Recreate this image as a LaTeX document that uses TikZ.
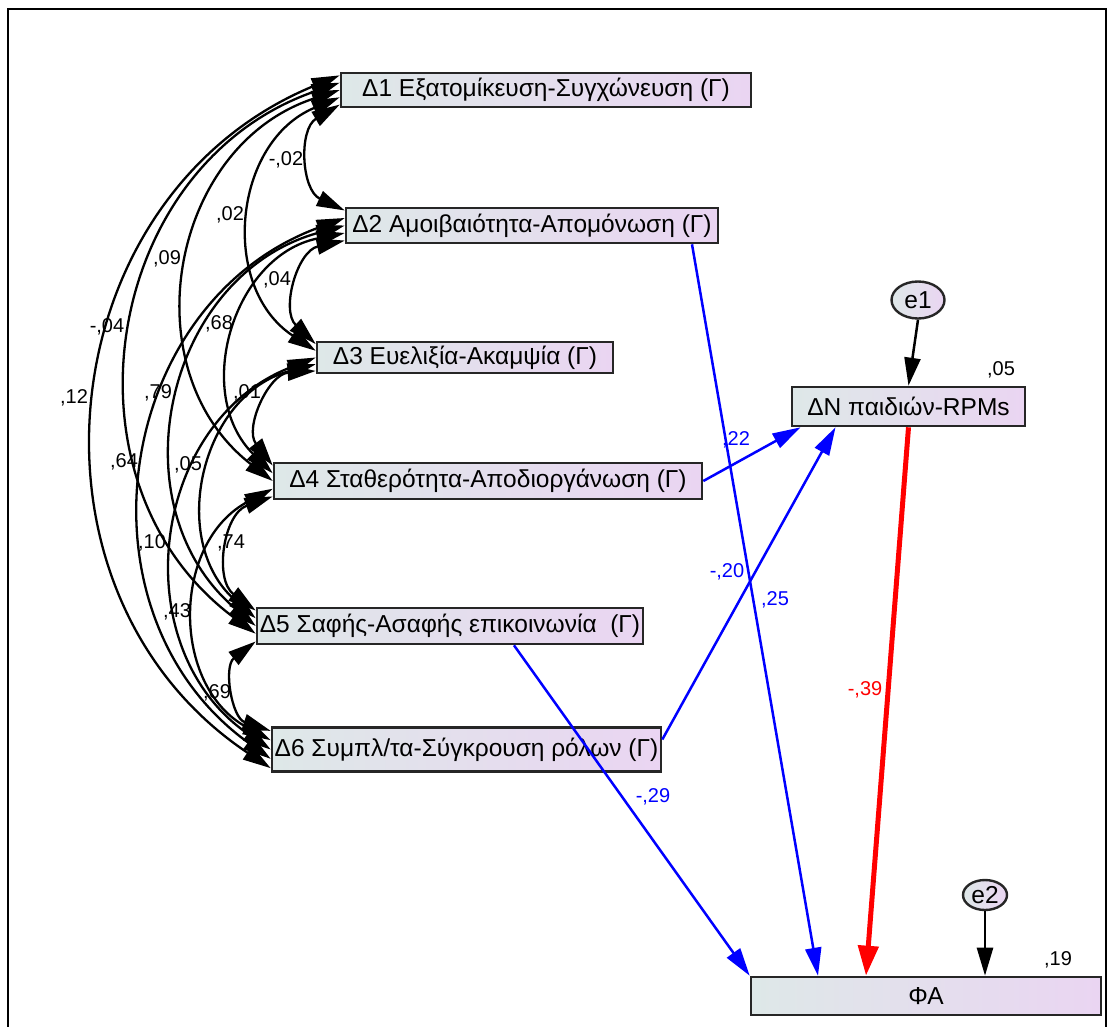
\documentclass[tikz,border=0pt]{standalone}
\usepackage{fontspec}
\setmainfont{Liberation Sans}
\usetikzlibrary{arrows.meta,calc,shapes.geometric}

\definecolor{boxL}{RGB}{222,232,232}
\definecolor{boxR}{RGB}{234,213,242}
\definecolor{pathblue}{RGB}{0,0,255}
\definecolor{pathred}{RGB}{255,0,0}

\begin{document}
\begin{tikzpicture}[x=1pt,y=-1pt,
  var/.style={rectangle, draw=black!85, line width=2.6pt, left color=boxL, right color=boxR,
    inner sep=0pt, font=\fontsize{24.5}{27}\selectfont},
  err/.style={ellipse, draw=black!85, line width=2.4pt, left color=boxL, right color=boxR,
    inner sep=0pt, font=\fontsize{24.5}{27}\selectfont},
  cov/.style={line width=2.3pt, {Triangle[length=28pt,width=16pt]}-{Triangle[length=28pt,width=16pt]},
    bend right=62, looseness=1.16},
  reg/.style={line width=2.5pt, draw=pathblue, -{Triangle[length=28pt,width=16pt]}},
  bigreg/.style={line width=5pt, draw=pathred, -{Triangle[length=30pt,width=20pt]}},
  resid/.style={line width=2.5pt, -{Triangle[length=28pt,width=16pt]}},
  lbl/.style={font=\fontsize{20}{22}\selectfont, inner sep=0pt},
]
\useasboundingbox (0,0) rectangle (1113,1026);

% outer frame
\draw[line width=2.8pt] (8,1040) -- (8,9) -- (1106,9) -- (1106,1040);

% observed variables
\node[var, minimum width=410, minimum height=34] (d1) at (546,90)   {Δ1 Εξατομίκευση-Συγχώνευση (Γ)};
\node[var, minimum width=372, minimum height=35] (d2) at (532,225.5){Δ2 Αμοιβαιότητα-Απομόνωση (Γ)};
\node[var, minimum width=296, minimum height=31] (d3) at (465,357.5){Δ3 Ευελιξία-Ακαμψία (Γ)};
\node[var, minimum width=428, minimum height=36] (d4) at (488,481)  {Δ4 Σταθερότητα-Αποδιοργάνωση (Γ)};
\node[var, minimum width=386, minimum height=36] (d5) at (450,626)  {Δ5 Σαφής-Ασαφής επικοινωνία\ \ (Γ)};
\node[var, minimum width=389, minimum height=44] (d6) at (466.5,749.5){Δ6 Συμπλ/τα-Σύγκρουση ρόλων (Γ)};
\node[var, minimum width=233, minimum height=39] (dn) at (908.5,406.5){ΔΝ παιδιών-RPMs};
\node[var, minimum width=350, minimum height=38] (fa) at (926,996)  {ΦΑ};

% residuals
\node[err, minimum width=53, minimum height=37] (e1) at (918,300) {e1};
\node[err, minimum width=44, minimum height=30] (e2) at (985,895) {e2};

% attachment slots along the left side of each predictor box
\foreach \k in {1,...,6}
  \foreach \s in {0,...,4}
    \coordinate (d\k-\s) at ($(d\k.north west)!{0.1+0.2*\s}!(d\k.south west)$);

% covariances between the six predictors
\foreach \i/\j in {1/2,1/3,1/4,1/5,1/6,2/3,2/4,2/5,2/6,3/4,3/5,3/6,4/5,4/6,5/6}{
  \pgfmathtruncatemacro\su{5-(\j-\i)}
  \pgfmathtruncatemacro\sl{\j-\i-1}
  \draw[cov] (d\i-\su) to (d\j-\sl);
}

% covariance estimates
\node[lbl] (c12) at (286,160) {-,02};
\node[lbl] (c13) at (230,215) {,02};
\node[lbl] (c14) at (167,259) {,09};
\node[lbl] (c15) at (107,327) {-,04};
\node[lbl] (c16) at (74,398)  {,12};
\node[lbl] (c23) at (277,280) {,04};
\node[lbl] (c24) at (219,324) {,68};
\node[lbl] (c25) at (158,393) {,79};
\node[lbl] (c26) at (124,462) {,64};
\node[lbl] (c34) at (247,393) {,01};
\node[lbl] (c35) at (188,465) {,05};
\node[lbl] (c36) at (152,543) {,10};
\node[lbl] (c45) at (231,543) {,74};
\node[lbl] (c46) at (177,612) {,43};
\node[lbl] (c56) at (217,693) {,69};

% regression paths
\draw[reg] ($(d2.south)+(160,0)$) -- ($(fa.north)+(-108,0)$);
\draw[reg] (d4.east) -- ($(dn.south)+(-108,0)$);
\draw[reg] ($(d6.east)+(0,-10)$) -- ($(dn.south)+(-73,0)$);
\draw[reg] ($(d5.south)+(64,0)$) -- (fa.north west);
\draw[bigreg] (dn.south) -- ($(fa.north)+(-60,0)$);
\draw[resid] (e1.south) -- (dn.north);
\draw[resid] (e2.south) -- ($(fa.north)+(59,0)$);

% path coefficients
\node[lbl, text=pathblue] (b25) at (775,600) {,25};
\node[lbl, text=pathblue] (b22) at (736,440) {,22};
\node[lbl, text=pathblue] (b20) at (727,572) {-,20};
\node[lbl, text=pathblue] (b29) at (653,797) {-,29};
\node[lbl, text=pathred]  (b39) at (865,690) {-,39};

% squared multiple correlations
\node[lbl] (r2n) at (1001,370) {,05};
\node[lbl] (r2f) at (1058,960) {,19};
\end{tikzpicture}
\end{document}
